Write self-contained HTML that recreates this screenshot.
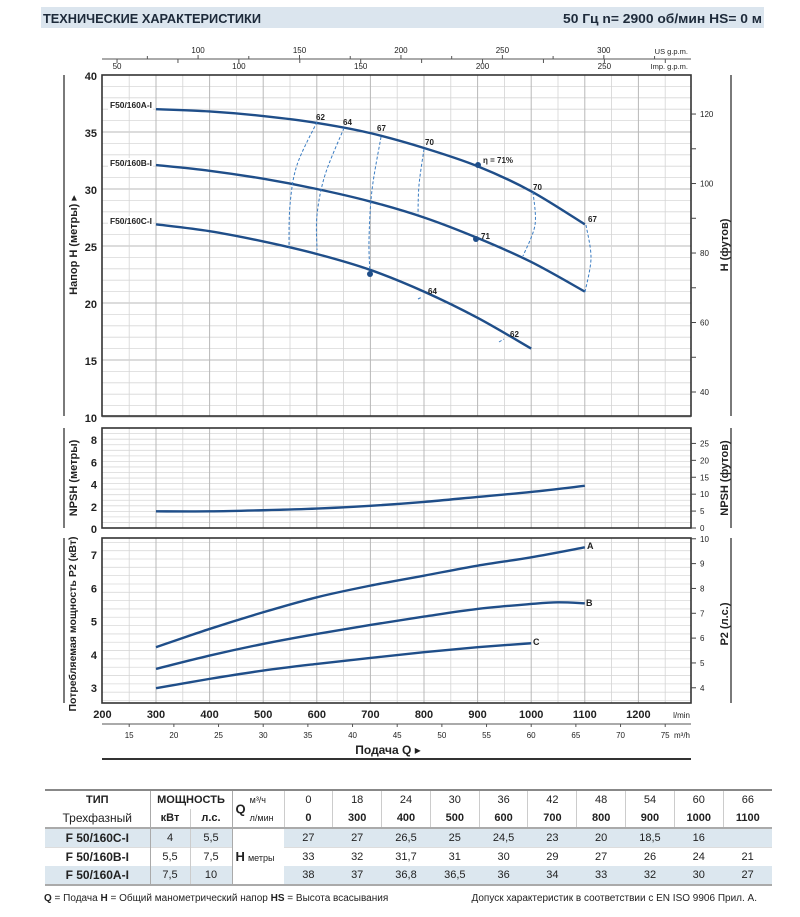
<!DOCTYPE html>
<html><head><meta charset="utf-8"><style>
body{margin:0;background:#fff;width:800px;height:912px;overflow:hidden;font-family:"Liberation Sans","DejaVu Sans",sans-serif}
svg text{font-family:"Liberation Sans","DejaVu Sans",sans-serif}
td{padding:0}
</style></head><body>
<svg id="s" width="800" height="912" viewBox="0 0 800 912" xmlns="http://www.w3.org/2000/svg">
<rect x="41" y="7" width="723" height="21" fill="#dbe5ee"/>
<text x="43" y="23" font-size="13" font-weight="bold" fill="#1d2a3a" textLength="218" lengthAdjust="spacingAndGlyphs">ТЕХНИЧЕСКИЕ ХАРАКТЕРИСТИКИ</text>
<text x="563" y="23" font-size="13" font-weight="bold" fill="#1d2a3a" textLength="199" lengthAdjust="spacingAndGlyphs">50 Гц   n= 2900 об/мин   HS= 0 м</text>
<g id="grid"></g>
<g id="curves"></g>
<g fill="#222">
<text x="688" y="54" font-size="7.5" text-anchor="end">US g.p.m.</text>
<text x="688" y="69" font-size="7.5" text-anchor="end">Imp. g.p.m.</text>
</g>
<g font-size="8" font-weight="bold" fill="#222">
<rect x="108" y="100" width="45" height="10" fill="#fff"/>
<rect x="108" y="158" width="45" height="10" fill="#fff"/>
<rect x="108" y="216" width="45" height="10" fill="#fff"/>
<text x="110" y="108" textLength="42" lengthAdjust="spacingAndGlyphs">F50/160A-I</text>
<text x="110" y="166" textLength="42" lengthAdjust="spacingAndGlyphs">F50/160B-I</text>
<text x="110" y="224" textLength="42" lengthAdjust="spacingAndGlyphs">F50/160C-I</text>
<text x="316" y="120">62</text><text x="343" y="125">64</text><text x="377" y="131">67</text>
<text x="425" y="145">70</text><text x="483" y="163">η = 71%</text><text x="533" y="190">70</text>
<text x="588" y="222">67</text><text x="481" y="239">71</text><text x="428" y="294">64</text><text x="510" y="337">62</text>
<text x="587" y="549" font-size="9">A</text><text x="586" y="606" font-size="9">B</text><text x="533" y="645" font-size="9">C</text>
</g>
<g font-weight="bold" font-size="11" fill="#222">
<text transform="translate(77,245) rotate(-90)" text-anchor="middle">Напор H  (метры) ▸</text>
<text transform="translate(728,245) rotate(-90)" text-anchor="middle">H  (футов)</text>
<text transform="translate(77,478) rotate(-90)" text-anchor="middle">NPSH  (метры)</text>
<text transform="translate(728,478) rotate(-90)" text-anchor="middle">NPSH  (футов)</text>
<text transform="translate(76,624) rotate(-90)" text-anchor="middle" font-size="10" textLength="175" lengthAdjust="spacingAndGlyphs">Потребляемая мощность  P2  (кВт)</text>
<text transform="translate(728,624) rotate(-90)" text-anchor="middle">P2  (л.с.)</text>
<text x="388" y="754" text-anchor="middle" font-size="12">Подача Q ▸</text>
</g>
</svg>
<div style="position:absolute;left:45px;top:789px;width:727px">
<table style="border-collapse:collapse;width:727px;font-size:11px;color:#222;text-align:center" cellpadding="0">
<colgroup><col style="width:105px"><col style="width:40px"><col style="width:42px"><col style="width:52px"><col span="10" style="width:48.8px"></colgroup>
<tr style="height:19px;border-top:2px solid #888"><td style="font-weight:bold">ТИП</td><td colspan="2" style="font-weight:bold;border-left:1px solid #aaa">МОЩНОСТЬ</td><td style="border-left:1px solid #aaa;text-align:left;padding-left:3px" rowspan="2"><b style="font-size:13px;vertical-align:middle">Q</b><span style="display:inline-block;vertical-align:middle;font-size:9px;line-height:18px;padding-left:4px">м³/ч<br>л/мин</span></td>
<td style="border-left:1px solid #ccc">0</td><td style="border-left:1px solid #ccc">18</td><td style="border-left:1px solid #ccc">24</td><td style="border-left:1px solid #ccc">30</td><td style="border-left:1px solid #ccc">36</td><td style="border-left:1px solid #ccc">42</td><td style="border-left:1px solid #ccc">48</td><td style="border-left:1px solid #ccc">54</td><td style="border-left:1px solid #ccc">60</td><td style="border-left:1px solid #ccc">66</td></tr>
<tr style="height:19px;font-weight:bold"><td style="font-weight:normal;font-size:12px">Трехфазный</td><td style="border-left:1px solid #aaa">кВт</td><td style="border-left:1px solid #ccc">л.с.</td>
<td style="border-left:1px solid #ccc">0</td><td style="border-left:1px solid #ccc">300</td><td style="border-left:1px solid #ccc">400</td><td style="border-left:1px solid #ccc">500</td><td style="border-left:1px solid #ccc">600</td><td style="border-left:1px solid #ccc">700</td><td style="border-left:1px solid #ccc">800</td><td style="border-left:1px solid #ccc">900</td><td style="border-left:1px solid #ccc">1000</td><td style="border-left:1px solid #ccc">1100</td></tr>
<tr style="height:19px;background:#dce7ef;border-top:2px solid #aaa"><td style="font-weight:bold;font-size:12px">F 50/160C-I</td><td style="border-left:1px solid #aaa">4</td><td style="border-left:1px solid #ccc">5,5</td><td rowspan="3" style="background:#fff;border-left:1px solid #aaa;text-align:left;padding-left:3px"><b style="font-size:13px">H</b> <span style="font-size:9px">метры</span></td>
<td>27</td><td>27</td><td>26,5</td><td>25</td><td>24,5</td><td>23</td><td>20</td><td>18,5</td><td>16</td><td></td></tr>
<tr style="height:19px;border-top:1px solid #ddd"><td style="font-weight:bold;font-size:12px">F 50/160B-I</td><td style="border-left:1px solid #aaa">5,5</td><td style="border-left:1px solid #ccc">7,5</td>
<td>33</td><td>32</td><td>31,7</td><td>31</td><td>30</td><td>29</td><td>27</td><td>26</td><td>24</td><td>21</td></tr>
<tr style="height:19px;background:#dce7ef;border-bottom:2px solid #aaa"><td style="font-weight:bold;font-size:12px">F 50/160A-I</td><td style="border-left:1px solid #aaa">7,5</td><td style="border-left:1px solid #ccc">10</td>
<td>38</td><td>37</td><td>36,8</td><td>36,5</td><td>36</td><td>34</td><td>33</td><td>32</td><td>30</td><td>27</td></tr>
</table></div>
<div style="position:absolute;left:44px;top:893px;font-size:10px;color:#222"><b>Q</b> = Подача  <b>H</b> = Общий манометрический напор  <b>HS</b> = Высота всасывания</div>
<div style="position:absolute;right:43px;top:893px;font-size:10px;color:#222">Допуск характеристик в соответствии с EN ISO 9906 Прил. А.</div>
<script>
var NS="http://www.w3.org/2000/svg",g=document.getElementById("grid"),cv=document.getElementById("curves");
function el(p,t,a,txt){var e=document.createElementNS(NS,t);for(var k in a)e.setAttribute(k,a[k]);if(txt!=null)e.textContent=txt;p.appendChild(e);return e;}
var L=102,R=691;function X(q){return 102.4+(q-200)*0.536;}
function line(x1,y1,x2,y2,c,w,d){var a={x1:x1,y1:y1,x2:x2,y2:y2,stroke:c,"stroke-width":w||1};if(d)a["stroke-dasharray"]=d;el(g,"line",a);}
function txt(x,y,s,o){var a={x:x,y:y,"font-size":(o&&o.fs)||10,fill:"#222"};if(o&&o.a)a["text-anchor"]=o.a;if(o&&o.b)a["font-weight"]="bold";el(g,"text",a,s);}
function vgrid(t,b){for(var q=200;q<=1290;q+=50){var x=X(q);if(x>L+1&&x<R-1)line(x,t,x,b,q%100==0?"#b8b8b8":"#d4d4d4",q%100==0?1:0.8);}}
var T1=75,B1=416;function Y1(h){return 75+(40-h)*11.4;}
for(var h=10;h<=40;h++){var y=Y1(h);line(L,y,R,y,h%5==0?"#b8b8b8":"#d8d8d8",h%5==0?1:0.8);}
vgrid(T1,B1);
el(g,"rect",{x:L,y:T1,width:R-L,height:B1-T1,fill:"none",stroke:"#333","stroke-width":1.6});
for(var h=10;h<=40;h+=5)txt(97,Y1(h)+5,h,{a:"end",fs:11,b:1});
for(var f=40;f<=120;f+=10){var y=Y1(f*0.3048);if(y<B1&&y>T1){line(R,y,R+5,y,"#444");if(f%20==0)txt(700,y+3,f,{fs:8});}}
line(L,59,R,59,"#555",1);
for(var u=75;u<=325;u+=25){var x=X(u*3.785);if(x>L&&x<R){line(x,59,x,u%50==0?55:56,"#555");if(u%50==0)txt(x,53,u,{a:"middle",fs:8});}}
for(var u=50;u<=275;u+=25){var x=X(u*4.546);if(x>L&&x<R){line(x,59,x,63,"#555");if(u%50==0)txt(x,69,u,{a:"middle",fs:8});}}
var T2=428,B2=528;function Y2(v){return 528-v*11.1;}
for(var v=0;v<=9;v+=0.5){var y=Y2(v);line(L,y,R,y,"#d8d8d8",0.8);}
vgrid(T2,B2);
el(g,"rect",{x:L,y:T2,width:R-L,height:B2-T2,fill:"none",stroke:"#333","stroke-width":1.6});
for(var v=0;v<=8;v+=2)txt(97,Y2(v)+5,v,{a:"end",fs:11,b:1});
for(var f=0;f<=25;f+=5){var y=Y2(f*0.3048);line(R,y,R+5,y,"#444");txt(700,y+3,f,{fs:8});}
var T3=538,B3=703;function Y3(p){return 554+(7-p)*33.3;}
for(var p=2.6;p<=7.5;p+=0.25){var y=Y3(p);if(y>T3&&y<B3)line(L,y,R,y,Math.abs(p-Math.round(p))<0.01?"#b8b8b8":"#dadada",0.8);}
vgrid(T3,B3);
el(g,"rect",{x:L,y:T3,width:R-L,height:B3-T3,fill:"none",stroke:"#333","stroke-width":1.6});
for(var p=3;p<=7;p++)txt(97,Y3(p)+5,p,{a:"end",fs:11,b:1});
for(var hp=4;hp<=10;hp++){var y=Y3(hp*0.7457);line(R,y,R+5,y,"#444");txt(700,y+3,hp,{fs:8});}
[[75,416],[428,528],[538,703]].forEach(function(r){line(64,r[0],64,r[1],"#333",1.3);line(731,r[0],731,r[1],"#333",1.3);});
for(var q=200;q<=1200;q+=100)txt(X(q),718,q,{a:"middle",fs:11,b:1});
txt(690,718,"l/min",{a:"end",fs:8});
line(L,724,R,724,"#555",1);
for(var m=15;m<=75;m+=5){var x=X(m*1000/60);line(x,724,x,727,"#555");txt(x,738,m,{a:"middle",fs:8});}
txt(690,738,"m³/h",{a:"end",fs:8});
line(L,759,R,759,"#333",2);
function cr(pts){var d="M"+pts[0][0]+","+pts[0][1];for(var i=0;i<pts.length-1;i++){var p0=pts[i-1]||pts[i],p1=pts[i],p2=pts[i+1],p3=pts[i+2]||p2;d+=" C"+(p1[0]+(p2[0]-p0[0])/6)+","+(p1[1]+(p2[1]-p0[1])/6)+" "+(p2[0]-(p3[0]-p1[0])/6)+","+(p2[1]-(p3[1]-p1[1])/6)+" "+p2[0]+","+p2[1];}return d;}
function curve(qs,vs,Y){var pts=qs.map(function(q,i){return [X(q),Y(vs[i])];});el(cv,"path",{d:cr(pts),fill:"none",stroke:"#1f4e89","stroke-width":2.4});}
var Q=[300,400,500,600,700,800,900,1000,1100];
curve(Q,[37,36.8,36.4,35.8,34.9,33.6,32,29.8,26.9],Y1);
curve(Q,[32.1,31.6,30.9,30,28.9,27.5,25.7,23.6,21],Y1);
curve(Q.slice(0,8),[26.9,26.3,25.4,24.3,22.9,21,18.7,16],Y1);
curve([300,400,500,600,700,800,900,1000,1100],[1.5,1.5,1.6,1.75,2.0,2.35,2.8,3.25,3.8],Y2);
curve(Q,[4.2,4.75,5.25,5.7,6.05,6.35,6.65,6.9,7.2],Y3);
curve([300,400,500,600,700,800,900,1000,1050,1100],[3.55,3.95,4.3,4.6,4.87,5.12,5.35,5.5,5.55,5.52],Y3);
curve(Q.slice(0,8),[2.97,3.25,3.5,3.7,3.88,4.05,4.2,4.32],Y3);
function dash(pts){el(cv,"path",{d:cr(pts),fill:"none",stroke:"#3a7cc2","stroke-width":1,"stroke-dasharray":"3,2"});}
dash([[317,122],[297,165],[290,205],[289,248]]);
dash([[344,128],[325,175],[317,215],[317,250]]);
dash([[381,137],[372,190],[369,240],[370,274]]);
dash([[424,149],[419,185],[418,215]]);
dash([[533,192],[535,225],[523,256]]);
dash([[586,225],[591,258],[585,292]]);
dash([[418,299],[422,297]]);dash([[499,342],[504,339]]);
[[478,165],[476,239],[370,274]].forEach(function(p){el(cv,"circle",{cx:p[0],cy:p[1],r:3,fill:"#1f4e89"});});
</script>
</body></html>
